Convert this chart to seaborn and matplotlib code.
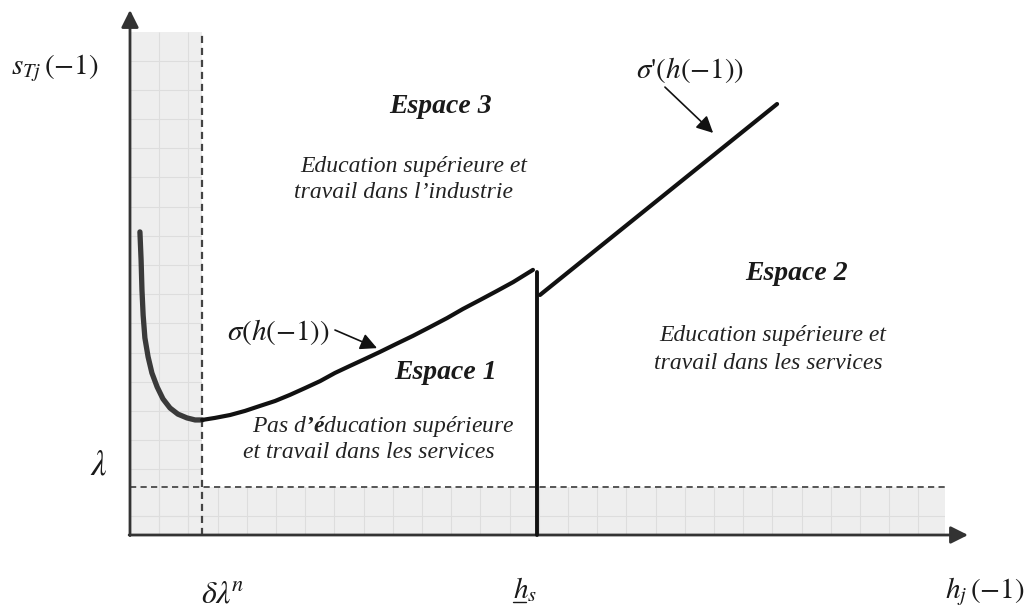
import numpy as np
import matplotlib.pyplot as plt
from matplotlib.patches import Rectangle
import seaborn as sns

# Diagram values in grid units (1 unit = one cell of the shaded grid),
# origin at the corner of the two axes

# steep left part of sigma(h(-1)), inside the shaded band
sigma_left_h = [0.34, 0.38, 0.41, 0.45, 0.51, 0.62, 0.75, 0.93, 1.13, 1.37, 1.64, 1.95, 2.23, 2.47]
sigma_left_s = [10.38, 9.42, 8.39, 7.53, 6.75, 6.10, 5.55, 5.07, 4.66, 4.35, 4.14, 4.01, 3.94, 3.94]
# sigma(h(-1)) between delta*lambda^n and h_s
sigma_h = [2.47, 2.91, 3.43, 3.94, 4.45, 4.97, 5.48, 5.99, 6.51, 7.02, 7.53,
           8.05, 8.56, 9.11, 9.69, 10.27, 10.86, 11.40, 11.99, 12.57, 13.12, 13.80]
sigma_s = [3.94, 4.01, 4.11, 4.25, 4.42, 4.59, 4.80, 5.03, 5.27, 5.55, 5.79,
           6.03, 6.27, 6.54, 6.82, 7.12, 7.43, 7.74, 8.05, 8.36, 8.66, 9.08]
# sigma'(h(-1)) beyond h_s
sigma_prime_h = [14.04, 22.16]
sigma_prime_s = [8.22, 14.76]

# thresholds
delta_lambda_n = 2.47   # vertical dashed line
lam = 1.64              # horizontal dashed line
h_s = 13.94             # vertical frontier
h_s_top = 9.01

# extents of the drawing
x_arrow, y_arrow = 28.70, 17.98
band_right, band_top = 27.91, 17.23

sns.set_theme(style="white")
plt.rcParams['mathtext.fontset'] = 'custom'
plt.rcParams['mathtext.rm'] = 'Liberation Serif:italic'
plt.rcParams['mathtext.it'] = 'Liberation Serif:italic'
plt.rcParams['mathtext.bf'] = 'Liberation Serif:bold:italic'

fig = plt.figure(figsize=(10.29, 6.13), dpi=100)
ax = fig.add_axes([0, 0, 1, 1])
ax.set_xlim(-4.452, 30.788)
ax.set_ylim(-2.671, 18.322)
ax.axis('off')

# shaded zones with their faint grid
band_col = '#eeeeee'
grid_col = '#dddddd'
vband = Rectangle((0, 0), delta_lambda_n, band_top, facecolor=band_col, edgecolor='none', zorder=0)
hband = Rectangle((0, 0), band_right, lam, facecolor=band_col, edgecolor='none', zorder=0)
ax.add_patch(vband)
ax.add_patch(hband)
for patch in (vband, hband):
    vl = ax.vlines(np.arange(1, 28), 0, band_top, color=grid_col, lw=0.8, zorder=1)
    vl.set_clip_path(patch)
    hl = ax.hlines(np.r_[0.65, np.arange(2.25, 17.0, 1.0)], 0, band_right, color=grid_col, lw=0.8, zorder=1)
    hl.set_clip_path(patch)

# dashed thresholds
ax.plot([delta_lambda_n, delta_lambda_n], [0, band_top], color='#444444', lw=1.6,
        dashes=(3.2, 2.2), zorder=2)
ax.plot([0, band_right], [lam, lam], color='#555555', lw=1.4, dashes=(3.2, 2.2), zorder=2)

# axes with arrow heads
axis_col = '#333333'
ax.annotate('', xy=(0, y_arrow), xytext=(0, -0.02),
            arrowprops=dict(arrowstyle='-|>,head_length=0.4,head_width=0.2', lw=2,
                            color=axis_col, mutation_scale=26, shrinkA=0, shrinkB=0), zorder=3)
ax.annotate('', xy=(x_arrow, 0), xytext=(-0.03, 0),
            arrowprops=dict(arrowstyle='-|>,head_length=0.4,head_width=0.2', lw=2,
                            color=axis_col, mutation_scale=26, shrinkA=0, shrinkB=0), zorder=3)

# curves
sns.lineplot(x=sigma_left_h, y=sigma_left_s, sort=False, estimator=None, ax=ax,
             color='#3a3a3a', lw=3.8, zorder=4, solid_joinstyle='round')
sns.lineplot(x=sigma_h, y=sigma_s, sort=False, estimator=None, ax=ax,
             color='#111111', lw=3.0, zorder=4, solid_joinstyle='round')
sns.lineplot(x=[h_s, h_s], y=[0, h_s_top], sort=False, estimator=None, ax=ax,
             color='#111111', lw=2.8, zorder=4)
sns.lineplot(x=sigma_prime_h, y=sigma_prime_s, sort=False, estimator=None, ax=ax,
             color='#111111', lw=3.0, zorder=4)

# pointer arrows for the curve names
arrow_kw = dict(arrowstyle='-|>,head_length=0.5,head_width=0.25', lw=1.2,
                color='#111111', mutation_scale=20, shrinkA=0, shrinkB=0)
ax.annotate('', xy=(8.46, 6.40), xytext=(7.02, 7.02), arrowprops=arrow_kw, zorder=5)
ax.annotate('', xy=(19.97, 13.77), xytext=(18.32, 15.34), arrowprops=arrow_kw, zorder=5)

# math labels
txt_col = '#1a1a1a'
math_kw = dict(color=txt_col, math_fontfamily='stix', zorder=6)
ax.text(-2.57, 15.99, r'$s_{Tj}\,(-1)$', ha='center', va='center', fontsize=21, **math_kw)
ax.text(-1.06, 2.40, r'$\lambda$', ha='center', va='center', fontsize=25, **math_kw)
ax.text(3.15, -2.02, r'$\delta\lambda^{\!n}$', ha='center', va='center', fontsize=23, **math_kw)
ax.text(13.12, -2.16, r'$h_s$', ha='left', va='baseline', fontsize=21, **math_kw)
ax.plot([13.12, 13.56], [-2.30, -2.30], color=txt_col, lw=1.0)
ax.text(29.28, -1.95, r'$h_j\,(-1)$', ha='center', va='center', fontsize=21, **math_kw)
ax.text(5.10, 6.95, r'$\sigma\left(h(-1)\right)$', ha='center', va='center', fontsize=21, **math_kw)
ax.text(19.18, 15.93, r"$\sigma$'$\left(h(-1)\right)$", ha='center', va='center',
        family='STIXGeneral', fontsize=21, **math_kw)

# zone titles and descriptions
title_kw = dict(fontsize=20, family='Liberation Serif', style='italic', weight='bold',
                color=txt_col, ha='center', va='center', zorder=6)
body_kw = dict(fontsize=17, family='Liberation Serif', style='italic',
               color='#222222', ha='center', va='baseline', zorder=6)

ax.text(10.62, 14.66, 'Espace 3', **title_kw)
ax.text(9.73, 12.43, 'Education supérieure et', **body_kw)
ax.text(9.35, 11.54, 'travail dans l’industrie', **body_kw)

ax.text(22.81, 8.94, 'Espace 2', **title_kw)
ax.text(22.02, 6.63, 'Education supérieure et', **body_kw)
ax.text(21.85, 5.67, 'travail dans les services', **body_kw)

ax.text(10.79, 5.58, 'Espace 1', **title_kw)
ax.text(8.66, 3.54, r'Pas d$\mathbf{’é}$ducation supérieure', **body_kw)
ax.text(8.18, 2.65, 'et travail dans les services', **body_kw)

fig.savefig('out.png', dpi=100)
